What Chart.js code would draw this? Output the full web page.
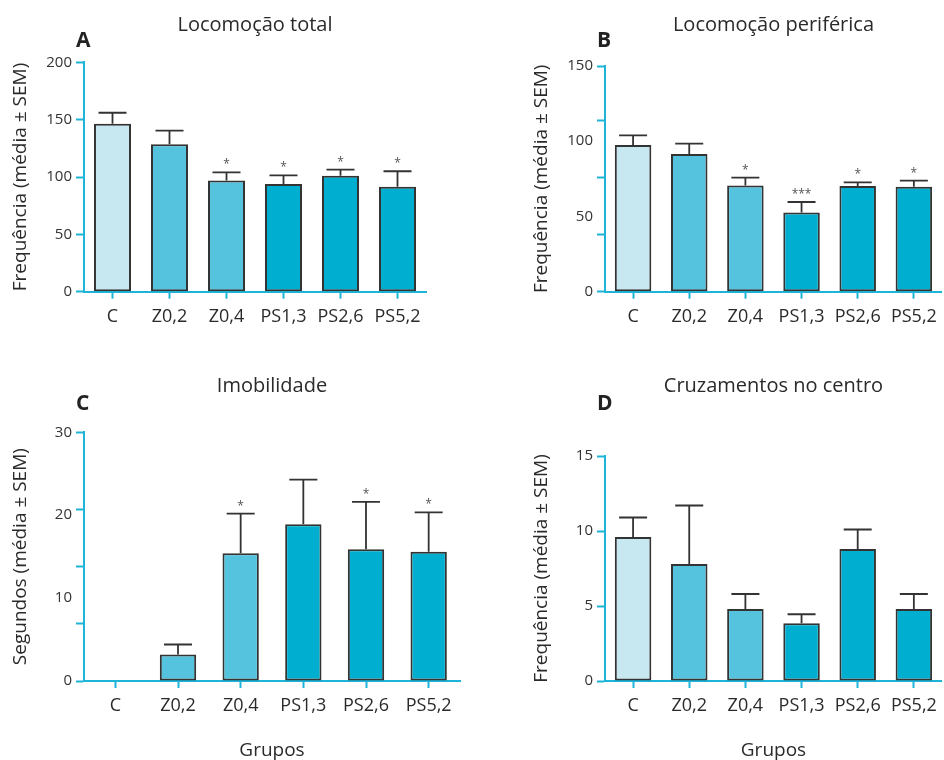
<!DOCTYPE html>
<html lang="pt">
<head>
<meta charset="utf-8">
<script src="https://cdn.jsdelivr.net/npm/chart.js@4.4.1/dist/chart.umd.min.js"></script>
<style>
  body { margin: 0; background: #fff; }
  #wrap { position: relative; width: 944px; height: 760px; overflow: hidden; }
  #wrap canvas { position: absolute; }
</style>
</head>
<body>
<div id="wrap">
  <canvas id="chartA" width="470" height="370" style="left:0;top:0"></canvas>
  <canvas id="chartB" width="474" height="370" style="left:470px;top:0"></canvas>
  <canvas id="chartC" width="470" height="390" style="left:0;top:370px"></canvas>
  <canvas id="chartD" width="474" height="390" style="left:470px;top:370px"></canvas>
</div>
<script>
// --- Data ---
const groups = ['C', 'Z0,2', 'Z0,4', 'PS1,3', 'PS2,6', 'PS5,2'];

const locoTotal = [146.5, 128.5, 97, 94, 101, 91.5];
const locoTotalSem = [9.5, 12, 7, 7.5, 5.5, 13.5];
const locoTotalSig = ['', '', '*', '*', '*', '*'];
const locoTotalTicks = [0, 50, 100, 150, 200];

const locoPerif = [97.5, 91.5, 70.5, 52.7, 70.2, 69.8];
const locoPerifSem = [6.4, 6.9, 5.3, 6.9, 2.5, 4.0];
const locoPerifSig = ['', '', '*', '***', '*', '*'];
const locoPerifTicks = [0, 50, 100, 150];
const locoPerifMarks = [0, 38, 76, 114, 150];

const imobilidade = [0, 3.2, 15.4, 18.9, 15.9, 15.6];
const imobilidadeSem = [0, 1.2, 4.8, 5.4, 5.7, 4.75];
const imobilidadeSig = ['', '', '*', '', '*', '*'];
const imobilidadeTicks = [0, 10, 20, 30];
const imobilidadeMarks = [0, 6.9, 13.8, 20.7, 30];

const cruzamentos = [9.6, 7.8, 4.8, 3.85, 8.8, 4.8];
const cruzamentosSem = [1.3, 3.9, 1.0, 0.6, 1.3, 1.0];
const cruzamentosSig = ['', '', '', '', '', ''];
const cruzamentosTicks = [0, 5, 10, 15];

// --- Styles ---
const barColors = ['#c8e8f1', '#55c3de', '#55c3de', '#00afd0', '#00afd0', '#00afd0'];
const axisColor = '#1db4d8';
const textColor = '#2a2a2a';

Chart.defaults.font.family = '"Open Sans", "Noto Sans", sans-serif';
Chart.defaults.color = textColor;

// error bars (mean + SEM, upward only) and significance marks
const errorBars = {
  id: 'errorBars',
  afterDatasetsDraw(chart) {
    const { ctx, scales: { y } } = chart;
    const ds = chart.data.datasets[0];
    const meta = chart.getDatasetMeta(0);
    ctx.save();
    ctx.strokeStyle = '#333';
    ctx.lineWidth = 1.8;
    meta.data.forEach((bar, i) => {
      const top = y.getPixelForValue(ds.data[i] + ds.sem[i]);
      if (ds.sem[i] > 0) {
        ctx.beginPath();
        ctx.moveTo(bar.x, bar.y);
        ctx.lineTo(bar.x, top);
        ctx.moveTo(bar.x - 14, top);
        ctx.lineTo(bar.x + 14, top);
        ctx.stroke();
      }
      if (ds.sig[i]) {
        ctx.fillStyle = '#555';
        ctx.font = '12px "Open Sans", sans-serif';
        ctx.textAlign = 'center';
        ctx.textBaseline = 'alphabetic';
        ctx.fillText(ds.sig[i], bar.x, top - 4);
      }
    });
    ctx.restore();
  }
};

// bold panel letter (A, B, C, D)
const panelLetter = {
  id: 'panelLetter',
  afterDraw(chart, args, opts) {
    const { ctx, chartArea } = chart;
    ctx.save();
    ctx.fillStyle = '#222';
    ctx.font = 'bold 21px "Open Sans", sans-serif';
    ctx.textAlign = 'left';
    ctx.textBaseline = 'middle';
    ctx.fillText(opts.text, chartArea.left - 8, opts.y);
    ctx.restore();
  }
};

function makePanel(id, p) {
  const marks = p.marks || p.ticks;
  const allTicks = Array.from(new Set([...p.ticks, ...marks])).sort((a, b) => a - b);
  return new Chart(document.getElementById(id), {
    type: 'bar',
    data: {
      labels: groups,
      datasets: [{
        data: p.values,
        sem: p.sem,
        sig: p.sig,
        backgroundColor: barColors,
        borderColor: '#333',
        borderWidth: 2,
        borderSkipped: false,
        categoryPercentage: 1,
        barPercentage: p.barPct
      }]
    },
    options: {
      responsive: false,
      animation: false,
      layout: { padding: { top: 0, left: 0, right: p.padRight, bottom: 0 } },
      plugins: {
        legend: { display: false },
        tooltip: { enabled: false },
        title: {
          display: true,
          text: p.title,
          fullSize: false,
          color: textColor,
          font: { size: 20, weight: 'normal', lineHeight: 1.2 },
          padding: { top: p.titleTop, bottom: p.titleBottom }
        },
        panelLetter: { text: p.letter, y: p.letterY }
      },
      scales: {
        x: {
          offset: true,
          grid: { display: true, offset: false, drawOnChartArea: false, tickLength: 7, tickColor: axisColor, tickWidth: 2 },
          border: { color: axisColor, width: 2 },
          ticks: { color: textColor, font: { size: 18 }, padding: 7, maxRotation: 0, autoSkip: false },
          title: {
            display: p.xTitle,
            text: 'Grupos',
            color: textColor,
            font: { size: 19, lineHeight: 0.95 },
            padding: { top: 0, bottom: 0 }
          },
          afterFit: (s) => { s.height = p.xHeight; }
        },
        y: {
          min: 0,
          max: p.ticks[p.ticks.length - 1],
          afterBuildTicks: (s) => { s.ticks = allTicks.map(v => ({ value: v })); },
          grid: {
            drawOnChartArea: false,
            tickLength: 8,
            tickWidth: 2,
            tickColor: (c) => (c.tick && marks.includes(c.tick.value)) ? axisColor : 'rgba(0,0,0,0)'
          },
          border: { color: axisColor, width: 2 },
          ticks: {
            color: '#333',
            font: { size: 15 },
            padding: 4,
            callback: (v) => p.ticks.includes(v) ? String(v) : ''
          },
          title: {
            display: true,
            text: p.yTitle,
            color: textColor,
            font: { size: 19, lineHeight: 1.2 },
            padding: { top: p.yTitlePad, bottom: 0 }
          },
          afterFit: (s) => { s.width = p.yWidth; }
        }
      }
    },
    plugins: [errorBars, panelLetter]
  });
}

makePanel('chartA', {
  title: 'Locomoção total', letter: 'A', letterY: 41.5,
  values: locoTotal, sem: locoTotalSem, sig: locoTotalSig, ticks: locoTotalTicks,
  yTitle: 'Frequência (média ± SEM)', xTitle: false,
  padRight: 44, yWidth: 84, xHeight: 78.3, titleTop: 13, titleBottom: 25.3, yTitlePad: 9.6, barPct: 0.65
});

makePanel('chartB', {
  title: 'Locomoção periférica', letter: 'B', letterY: 41.5,
  values: locoPerif, sem: locoPerifSem, sig: locoPerifSig, ticks: locoPerifTicks, marks: locoPerifMarks,
  yTitle: 'Frequência (média ± SEM)', xTitle: false,
  padRight: 0, yWidth: 135, xHeight: 78.3, titleTop: 13, titleBottom: 29, yTitlePad: 60, barPct: 0.65
});

makePanel('chartC', {
  title: 'Imobilidade', letter: 'C', letterY: 34.3,
  values: imobilidade, sem: imobilidadeSem, sig: imobilidadeSig, ticks: imobilidadeTicks, marks: imobilidadeMarks,
  yTitle: 'Segundos (média ± SEM)', xTitle: true,
  padRight: 10, yWidth: 84, xHeight: 79, titleTop: 4.3, titleBottom: 34, yTitlePad: 9.6, barPct: 0.58
});

makePanel('chartD', {
  title: 'Cruzamentos no centro', letter: 'D', letterY: 34.3,
  values: cruzamentos, sem: cruzamentosSem, sig: cruzamentosSig, ticks: cruzamentosTicks,
  yTitle: 'Frequência (média ± SEM)', xTitle: true,
  padRight: 0, yWidth: 135, xHeight: 79, titleTop: 4.3, titleBottom: 57.7, yTitlePad: 60, barPct: 0.65
});
</script>
</body>
</html>
